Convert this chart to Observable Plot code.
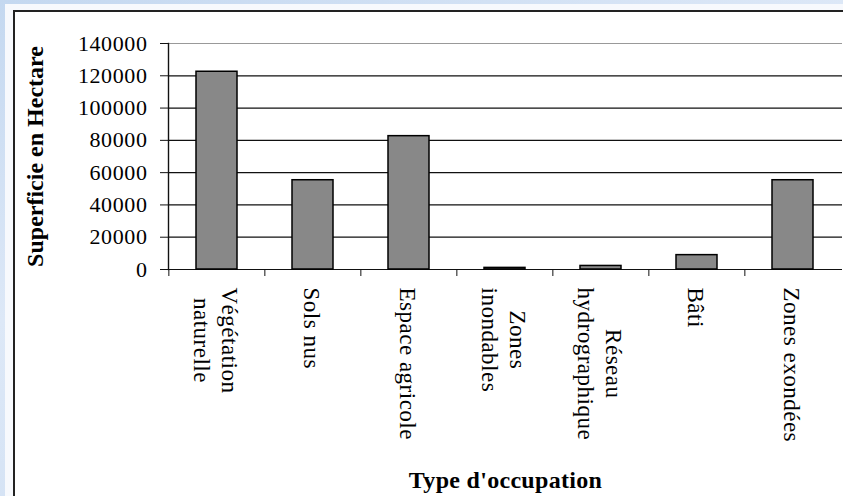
<!DOCTYPE html>
<html><head><meta charset="utf-8">
<script src="https://cdn.jsdelivr.net/npm/d3@7"></script>
<script src="https://cdn.jsdelivr.net/npm/@observablehq/plot@0.6"></script>
<style>
html,body{margin:0;padding:0;}
body{width:843px;height:496px;overflow:hidden;position:relative;background:linear-gradient(160deg,#c4d8f0,#dde8f7 40%,#c9dbf1);}
#outer{position:absolute;left:5px;top:4px;right:0;bottom:0;background:#f7f9fd;}
#box{position:absolute;left:13px;top:10px;width:900px;height:600px;background:#fff;border:2px solid #222;box-sizing:border-box;}
#chart{position:absolute;left:0;top:0;}
</style></head><body>
<div id="outer"></div><div id="box"></div><div id="chart"></div>
<script>
const categories = ["Végétation\nnaturelle","Sols nus","Espace agricole","Zones\ninondables","Réseau\nhydrographique","Bâti","Zones exondées"];
const superficie = [122500, 55300, 82600, 1000, 2200, 8900, 55300];
const yTicks = [0,20000,40000,60000,80000,100000,120000,140000];
const yLabel = "Superficie en Hectare";
const xLabel = "Type d'occupation";

const data = categories.map((c,i)=>({type:c, value: superficie[i]}));
const width=843, height=496, marginLeft=168, marginRight=1, marginTop=43, marginBottom=227;
const step = (width - marginLeft - marginRight)/categories.length;
const serif = "'Liberation Serif','Times New Roman',serif";

const chart = Plot.plot({
  width, height, marginLeft, marginRight, marginTop, marginBottom,
  style: {background:"transparent", fontFamily: serif, overflow:"visible", color:"#000"},
  x: {domain: categories, paddingInner: 0.57, paddingOuter: 0.285, label: null},
  y: {domain: [0,140000], label: null},
  marks: [
    Plot.gridY(yTicks.slice(0,-1), {stroke:"#111", strokeOpacity:1, strokeWidth:1.2}),
    Plot.gridY(yTicks.slice(-1), {stroke:"#999", strokeOpacity:1, strokeWidth:1.2}),
    Plot.frame({anchor:"left", stroke:"#111", strokeWidth:1.4}),
    Plot.barY(data, {x:"type", y:"value", fill:"#888", stroke:"#000", strokeWidth:1.5}),
    Plot.axisY({ticks: yTicks, tickFormat: d3.format("d"), tickSize: 8, tickPadding: 13, fontSize: 22, label: null, stroke: "#111"}),
    Plot.axisY({ticks: [], label: yLabel, labelAnchor: "center", labelOffset: 143, labelArrow: "none", fontSize: 24, fontWeight: "bold"}),
    Plot.axisX({tickSize: 0, tickPadding: 18, tickRotate: 90, fontSize: 23, label: null, lineHeight: 1.2}),
    Plot.axisX({tickSize: 7, fill: "none", dx: -step/2, label: null, stroke:"#111"}),
    Plot.axisX({ticks: [], label: xLabel, labelAnchor:"center", labelOffset: 218, labelArrow:"none", fontSize: 24, fontWeight: "bold"})
  ]
});
document.getElementById("chart").appendChild(chart);

// per-line centring of multi-line tick labels, like the original
const svg = d3.select(chart);
svg.selectAll('g[aria-label="x-axis tick label"] text').style("letter-spacing","0.5px").each(function(){
  const tspans = Array.from(this.querySelectorAll("tspan"));
  if (tspans.length < 2) return;
  const lens = tspans.map(t => t.getComputedTextLength());
  const m = Math.max(...lens);
  tspans.forEach((t,i) => t.setAttribute("x", (m - lens[i]) / 2));
});
svg.selectAll('g[aria-label="y-axis tick label"] text').style("letter-spacing","0.6px");
svg.selectAll('g[aria-label="x-axis label"] text').style("letter-spacing","0.3px");
</script>
</body></html>
